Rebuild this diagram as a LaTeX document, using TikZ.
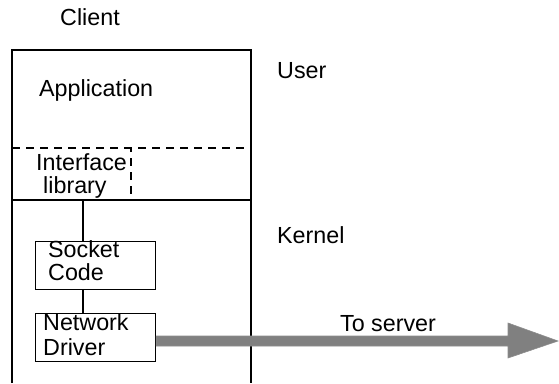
\documentclass[tikz,border=0pt]{standalone}
\usepackage{fontspec}
\setmainfont{Liberation Sans}
\begin{document}
\begin{tikzpicture}[x=1pt,y=-1pt,
  txt/.style={anchor=base west,inner sep=0pt,font=\fontsize{23.3}{25}\selectfont},
  frame/.style={line width=1.2pt},
  layerbox/.style={draw,line width=1.2pt,minimum width=120pt,minimum height=48pt,inner sep=0pt,anchor=north west},
  dashline/.style={line width=1.2pt,dash pattern=on 8pt off 6pt},
  bigarrow/.style={fill=black!50,draw=black!45,line width=0.6pt}]
\useasboundingbox (0,0) rectangle (559,383);
% outer frame
\coordinate (fbl) at (12,383);
\coordinate (ftl) at (12,50);
\coordinate (ftr) at (251,50);
\coordinate (fbr) at (251,383);
\draw[frame] (fbl) -- (ftl) -- (ftr) -- (fbr);
\coordinate (dl) at (12,200);
\coordinate (dr) at (251,200);
\draw[frame] (dl) -- (dr);
\coordinate (ul) at (12,148);
\coordinate (ur) at (251,148);
\draw[dashline] (ul) -- (ur);
\coordinate (ilt) at (131,148);
\coordinate (ilb) at (131,200);
\draw[dashline,dash phase=4pt] (ilt) -- (ilb);
% boxes
\node[layerbox] (sock) at (35,241) {};
\node[layerbox] (net) at (35,313) {};
\coordinate (vtop) at (83,200);
\draw[frame] (vtop) -- (vtop |- sock.north);
\draw[frame] (vtop |- sock.south) -- (vtop |- net.north);
% arrow
\path[bigarrow] (net.east |- 0,336) -- (508,336) -- (508,323) -- (558,341) -- (508,358) -- (508,346) -- (net.east |- 0,346) -- cycle;
% texts
\node[txt] (client) at (60,25) {Client};
\node[txt] (app) at (39,96) {Application};
\node[txt] (user) at (277,78) {User};
\node[txt] (kernel) at (277,243) {Kernel};
\node[txt] (iface) at (36,170) {Interface};
\node[txt] (lib) at (43,193) {library};
\node[txt] (socket) at (48,257) {Socket};
\node[txt] (code) at (48,280) {Code};
\node[txt] (network) at (43,330) {Network};
\node[txt] (driver) at (43,355) {Driver};
\node[txt,anchor=base] (toserver) at (388,331) {To server};
\end{tikzpicture}
\end{document}
